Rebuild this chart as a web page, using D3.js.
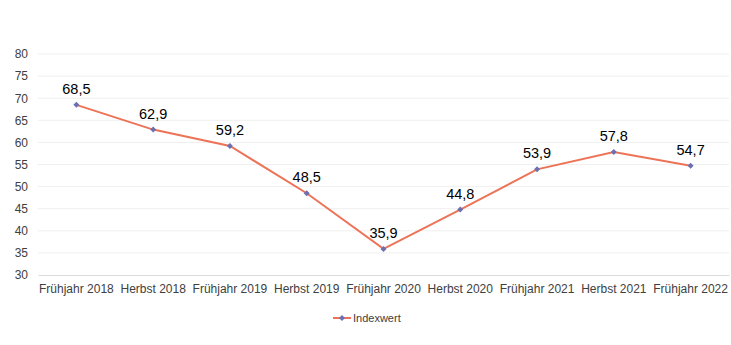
<!DOCTYPE html>
<html>
<head>
<meta charset="utf-8">
<script src="https://cdn.jsdelivr.net/npm/d3@7"></script>
<style>
  body { margin: 0; background: #fff; }
  svg text { font-family: "Liberation Sans", Arial, sans-serif; }
</style>
</head>
<body>
<div id="chart"></div>
<script>
var categories = ["Frühjahr 2018", "Herbst 2018", "Frühjahr 2019", "Herbst 2019", "Frühjahr 2020",
                  "Herbst 2020", "Frühjahr 2021", "Herbst 2021", "Frühjahr 2022"];
var indexwert = [68.5, 62.9, 59.2, 48.5, 35.9, 44.8, 53.9, 57.8, 54.7];
var yTicks = [30, 35, 40, 45, 50, 55, 60, 65, 70, 75, 80];
var seriesName = "Indexwert";

var W = 731, H = 345;
var margin = {top: 54, right: 2, bottom: 70, left: 38};
var width = W - margin.left - margin.right,
    height = H - margin.top - margin.bottom;

var svg = d3.select("#chart").append("svg")
    .attr("width", W)
    .attr("height", H)
  .append("g")
    .attr("transform", "translate(" + margin.left + "," + margin.top + ")");

var x = d3.scaleBand().domain(categories).range([0, width]);
var y = d3.scaleLinear().domain([30, 80]).range([height, 0]);

// gridlines
svg.selectAll(".grid")
    .data(yTicks.slice(1))
    .enter().append("line")
    .attr("x1", 0).attr("x2", width)
    .attr("y1", function(d) { return y(d); })
    .attr("y2", function(d) { return y(d); })
    .attr("stroke", "#efefef")
    .attr("stroke-width", 1);

// y axis labels
var yAxis = svg.append("g")
    .call(d3.axisLeft(y).tickValues(yTicks).tickSize(0).tickPadding(10));
yAxis.select(".domain").remove();
yAxis.selectAll("text").attr("font-size", "12px").attr("fill", "#404040");

// x axis
var xAxis = svg.append("g")
    .attr("transform", "translate(0," + height + ")")
    .call(d3.axisBottom(x).tickSize(0).tickPadding(9));
xAxis.select(".domain").attr("stroke", "#d9d9d9");
xAxis.selectAll("text").attr("font-size", "12px").attr("fill", "#404040");

var cx = function(d, i) { return x(categories[i]) + x.bandwidth() / 2; };

var line = d3.line()
    .x(cx)
    .y(function(d) { return y(d); });

svg.append("path")
    .attr("fill", "none")
    .attr("stroke", "#ed7357")
    .attr("stroke-width", 2)
    .attr("d", line(indexwert));

// diamond marker = rotated square
var diamond = d3.symbol().type(d3.symbolSquare).size(18);

svg.selectAll(".dot")
    .data(indexwert)
    .enter().append("path")
    .attr("d", diamond)
    .attr("transform", function(d, i) { return "translate(" + cx(d, i) + "," + y(d) + ") rotate(45)"; })
    .attr("fill", "#6b70b2");

svg.selectAll(".lbl")
    .data(indexwert)
    .enter().append("text")
    .attr("x", cx)
    .attr("y", function(d) { return y(d) - 11; })
    .attr("text-anchor", "middle")
    .attr("font-size", "14.5px")
    .attr("fill", "#000")
    .text(function(d) { return d.toFixed(1).replace(".", ","); });

// legend
var lg = svg.append("g").attr("transform", "translate(" + (333 - margin.left) + "," + (318 - margin.top) + ")");
lg.append("line").attr("x1", 0).attr("x2", 18).attr("y1", 0).attr("y2", 0)
    .attr("stroke", "#ed7357").attr("stroke-width", 2);
lg.append("path").attr("d", diamond).attr("transform", "translate(9,0) rotate(45)").attr("fill", "#6b70b2");
lg.append("text").attr("x", 20).attr("y", 0).attr("dy", "0.35em")
    .attr("font-size", "11px").attr("fill", "#404040").text(seriesName);
</script>
</body>
</html>
